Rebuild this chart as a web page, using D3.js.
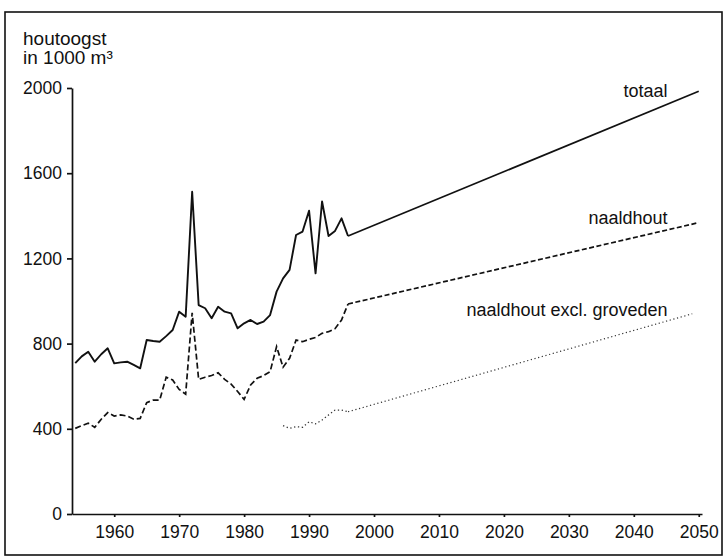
<!DOCTYPE html>
<html>
<head>
<meta charset="utf-8">
<script src="https://cdn.jsdelivr.net/npm/d3@7"></script>
<style>
body { margin:0; background:#fff; }
svg text { font-family: "Liberation Sans", Arial, sans-serif; fill:#111; }
</style>
</head>
<body>
<div id="chart"></div>
<script>
// houtoogst in 1000 m3
var jaren = d3.range(1954, 1997);
var totaal = [708, 740, 762, 715, 750, 778, 707, 712, 715, 700,
              684, 817, 812, 809, 835, 864, 950, 926, 1513, 981,
              966, 919, 973, 950, 942, 872, 895, 911, 892, 903,
              934, 1044, 1106, 1146, 1310, 1326, 1424, 1130, 1467, 1305,
              1329, 1388, 1305];
var naaldhout = [402, 415, 426, 407, 445, 476, 460, 465, 460, 445,
                 449, 523, 535, 535, 642, 629, 585, 563, 945, 632,
                 642, 650, 663, 632, 610, 575, 538, 606, 637, 650,
                 668, 786, 689, 731, 817, 809, 820, 829, 848, 856,
                 870, 911, 986];
var exclJaren = d3.range(1986, 1997);
var exclGroveden = [415, 402, 410, 407, 433, 423, 441, 465, 488, 488, 480];

// prognose tot 2050
var progJaren = [1996, 2050];
var totaalProg = [1305, 1985];
var naaldhoutProg = [986, 1368];
var exclProgJaren = [1996, 2049];
var exclProg = [480, 940];

var xTicks = [1960, 1970, 1980, 1990, 2000, 2010, 2020, 2030, 2040, 2050];
var yTicks = [0, 400, 800, 1200, 1600, 2000];

var W = 727, H = 560;
var svg = d3.select("#chart").append("svg")
    .attr("width", W).attr("height", H);

// frame round the whole figure
svg.append("rect")
    .attr("x", 5).attr("y", 12).attr("width", 717).attr("height", 543)
    .attr("fill", "none").attr("stroke", "#111").attr("stroke-width", 1.6);

var x = d3.scaleLinear().domain([1953.5, 2050.5]).range([72, 702]);
var y = d3.scaleLinear().domain([0, 2000]).range([514, 88]);

function pairs(xs, ys) {
    return xs.map(function(d, i) { return [d, ys[i]]; });
}

var line = d3.line()
    .x(function(d) { return x(d[0]); })
    .y(function(d) { return y(d[1]); });

// axes
var yAx = svg.append("g").attr("transform", "translate(72,0)")
    .call(d3.axisLeft(y).tickValues(yTicks).tickSize(5).tickSizeOuter(0)
        .tickPadding(5).tickFormat(d3.format("d")));
var xAx = svg.append("g").attr("transform", "translate(0,514)")
    .call(d3.axisBottom(x).tickValues(xTicks).tickSize(3).tickSizeOuter(0)
        .tickPadding(9).tickFormat(d3.format("d")));
[yAx, xAx].forEach(function(g) {
    g.selectAll("path,line").attr("stroke", "#111").attr("stroke-width", 1.7);
    g.selectAll("text").attr("font-size", 17.5).attr("font-family", null).attr("fill", "#111");
});

// series
svg.append("path").datum(pairs(jaren, totaal)).attr("d", line)
    .attr("fill", "none").attr("stroke", "#111").attr("stroke-width", 1.9)
    .attr("stroke-linejoin", "round");
svg.append("path").datum(pairs(progJaren, totaalProg)).attr("d", line)
    .attr("fill", "none").attr("stroke", "#111").attr("stroke-width", 1.7);

svg.append("path").datum(pairs(jaren, naaldhout)).attr("d", line)
    .attr("fill", "none").attr("stroke", "#111").attr("stroke-width", 1.7)
    .attr("stroke-dasharray", "6,3");
svg.append("path").datum(pairs(progJaren, naaldhoutProg)).attr("d", line)
    .attr("fill", "none").attr("stroke", "#111").attr("stroke-width", 1.7)
    .attr("stroke-dasharray", "5,2.5");

svg.append("path").datum(pairs(exclJaren, exclGroveden)).attr("d", line)
    .attr("fill", "none").attr("stroke", "#333").attr("stroke-width", 1.3)
    .attr("stroke-dasharray", "1.3,2.6");
svg.append("path").datum(pairs(exclProgJaren, exclProg)).attr("d", line)
    .attr("fill", "none").attr("stroke", "#333").attr("stroke-width", 1.2)
    .attr("stroke-dasharray", "1.2,2.6");

// labels at the line ends
var labels = [["totaal", 1960], ["naaldhout", 1360], ["naaldhout excl. groveden", 930]];
svg.selectAll(".lbl").data(labels).enter().append("text")
    .attr("class", "lbl")
    .attr("x", x(2045.2)).attr("y", function(d) { return y(d[1]); })
    .attr("text-anchor", "end").attr("font-size", 18)
    .text(function(d) { return d[0]; });

// unit title
svg.append("text").attr("x", 23).attr("y", 45).attr("font-size", 19).text("houtoogst");
svg.append("text").attr("x", 23).attr("y", 64).attr("font-size", 19).text("in 1000 m³");
</script>
</body>
</html>
